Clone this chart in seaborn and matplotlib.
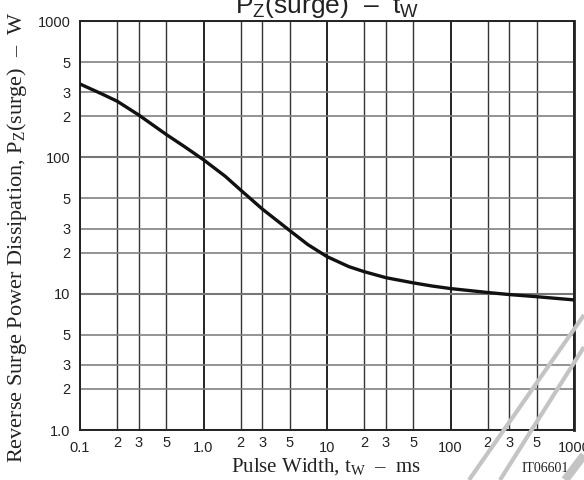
import numpy as np
import pandas as pd
import matplotlib
matplotlib.use('Agg')
import matplotlib.pyplot as plt
import seaborn as sns
from matplotlib.ticker import FixedLocator, FixedFormatter
from matplotlib.lines import Line2D

# values
pulse_ms = [0.1, 0.15, 0.2, 0.3, 0.5, 0.7, 1, 1.5, 2, 3, 5, 7, 10, 15, 20, 30, 50, 70,
            100, 200, 300, 500, 1000]
power_w = [345, 292, 258, 204, 147, 120, 96, 72.6, 57.5, 41.7, 29, 22.9, 18.7, 15.8, 14.5,
           13.1, 12.0, 11.4, 10.9, 10.2, 9.85, 9.5, 9.0]

x_major_ticks = [0.1, 1, 10, 100, 1000]
x_major_labels = ['0.1', '1.0', '10', '100', '1000']
x_minor_ticks = [0.2, 0.3, 0.5, 2, 3, 5, 20, 30, 50, 200, 300, 500]
x_minor_labels = ['2', '3', '5'] * 4

y_major_ticks = [1, 10, 100, 1000]
y_major_labels = ['1.0', '10', '100', '1000']
y_minor_ticks = [2, 3, 5, 20, 30, 50, 200, 300, 500]
y_minor_labels = ['2', '3', '5'] * 3

df = pd.DataFrame({'tw': pulse_ms, 'pz': power_w})

sns.set_style('white')
plt.rcParams['font.family'] = ['Liberation Sans', 'DejaVu Sans']
plt.rcParams['mathtext.fontset'] = 'custom'
plt.rcParams['mathtext.rm'] = 'Liberation Sans'

fig = plt.figure(figsize=(5.84, 4.8), dpi=100)
ax = fig.add_axes([80 / 584, 1 - 430 / 480, 494 / 584, 409 / 480])
ax.set_xscale('log')
ax.set_yscale('log')

sns.lineplot(data=df, x='tw', y='pz', ax=ax, color='#111111', linewidth=2.4, zorder=5)

ax.set_xlim(0.1, 1000)
ax.set_ylim(1, 1000)

ax.xaxis.set_major_locator(FixedLocator(x_major_ticks))
ax.xaxis.set_major_formatter(FixedFormatter(x_major_labels))
ax.xaxis.set_minor_locator(FixedLocator(x_minor_ticks))
ax.xaxis.set_minor_formatter(FixedFormatter(x_minor_labels))
ax.yaxis.set_major_locator(FixedLocator(y_major_ticks))
ax.yaxis.set_major_formatter(FixedFormatter(y_major_labels))
ax.yaxis.set_minor_locator(FixedLocator(y_minor_ticks))
ax.yaxis.set_minor_formatter(FixedFormatter(y_minor_labels))

ax.tick_params(axis='x', which='major', length=0, pad=8, labelsize=10.5, labelcolor='#222222')
ax.tick_params(axis='x', which='minor', length=0, pad=4, labelsize=10.5, labelcolor='#222222')
ax.tick_params(axis='y', which='both', length=0, pad=7, labelsize=10.5, labelcolor='#222222')

# grid: vertical lines dark, horizontal lines grey
ax.grid(which='major', axis='x', color='#111111', linewidth=1.3)
ax.grid(which='minor', axis='x', color='#333333', linewidth=1.0)
ax.grid(which='major', axis='y', color='#777777', linewidth=1.5)
ax.grid(which='minor', axis='y', color='#808080', linewidth=1.2)

for s in ax.spines.values():
    s.set_color('#222222')
    s.set_linewidth(1.4)
ax.spines['right'].set_linewidth(2.0)

ax.set_xlabel('')
ax.set_ylabel('')

fig.text(326 / 584, 1 - 467 / 480, r'Pulse Width, t$\mathregular{_W}$  –  ms',
         family='Liberation Serif', fontsize=15, ha='center', va='center', color='#222222')
fig.text(17 / 584, 1 - 237 / 480,
         r'Reverse Surge Power Dissipation, P$\mathregular{_Z}$(surge)  –  W',
         family='Liberation Serif', fontsize=16, rotation=90, ha='center', va='center',
         color='#222222')
fig.text(327 / 584, 1 - 13 / 480, r'P$\mathregular{_Z}$(surge)  –  t$\mathregular{_W}$',
         fontsize=19, ha='center', va='baseline', color='#222222')
fig.text(569 / 584, 1 - 468 / 480, 'IT06601', family='Liberation Serif', fontsize=10,
         ha='right', va='center', color='#222222')

# light grey watermark strokes in the corner
for (x0, y0, x1, y1, w) in [(469, 480, 584, 315, 3.0), (500, 480, 584, 347, 3.0),
                            (565, 480, 584, 455, 6.0)]:
    fig.add_artist(Line2D([x0 / 584, x1 / 584], [1 - y0 / 480, 1 - y1 / 480],
                          transform=fig.transFigure, color='#c4c4c4', linewidth=w,
                          zorder=10, solid_capstyle='butt'))

fig.savefig('out.png', dpi=100)
